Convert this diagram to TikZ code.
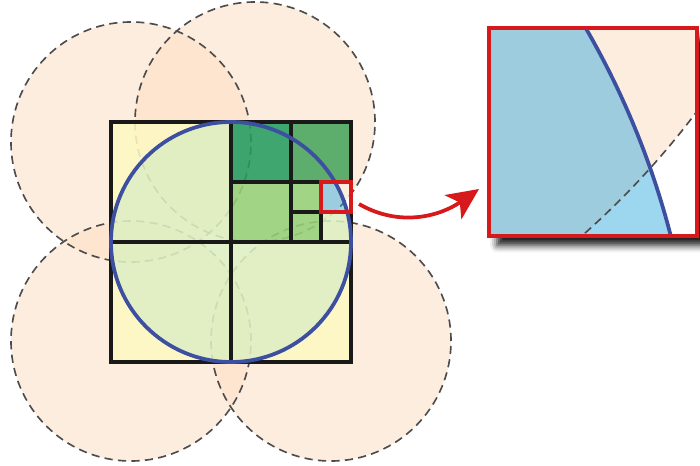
\documentclass[tikz,border=0pt]{standalone}
\usepackage{tikz}
\usetikzlibrary{arrows.meta,shadows.blur}
\usepackage{xcolor}
\definecolor{peach}{RGB}{252,220,192}
\definecolor{paleyellow}{RGB}{254,248,194}
\definecolor{palegreen}{RGB}{222,239,193}
\definecolor{darkgreen}{RGB}{36,156,95}
\definecolor{midgreen}{RGB}{71,166,94}
\definecolor{lightgreen}{RGB}{149,209,121}
\definecolor{skyblue}{RGB}{51,170,222}
\definecolor{circleblue}{RGB}{61,79,160}
\definecolor{zoomred}{RGB}{215,25,28}
\begin{document}
\begin{tikzpicture}[x=0.03cm,y=0.03cm,
  dashedline/.style={draw=black!70,line width=1.4pt,dash pattern=on 7pt off 4.5pt},
  cellline/.style={draw=black!90,line width=3pt,line cap=rect},
  circleline/.style={draw=circleblue,line width=3.2pt},
  zoomarrow/.style={draw=zoomred,line width=3.2pt,-{Stealth[length=27pt,width=25pt,inset=7pt]}}]
\useasboundingbox (0,0) rectangle (700,465);
\foreach \cx/\cy in {131/323,255/343,131/124,331/124}
  \fill[peach,fill opacity=0.5] (\cx,\cy) circle (120);
\foreach \cx/\cy in {131/323,255/343,131/124,331/124}
  \draw[dashedline] (\cx,\cy) circle (120);
\begin{scope}[transparency group,opacity=0.88,even odd rule]
\clip (100,90) rectangle (360,355) (321,253) rectangle (351,283);
\fill[paleyellow] (111,103) rectangle (351,343);
\fill[palegreen] (231,223) circle (120);
\fill[darkgreen] (231,283) rectangle (291,343);
\fill[midgreen] (291,283) rectangle (351,343);
\fill[lightgreen] (231,223) rectangle (291,283);
\fill[lightgreen] (291,253) rectangle (321,283);
\fill[lightgreen] (291,223) rectangle (321,253);
\end{scope}
\begin{scope}
\clip (321,253) rectangle (351,283);
\fill[skyblue,fill opacity=0.48] (231,223) circle (120);
\end{scope}
\draw[cellline] (111,103) rectangle (351,343);
\draw[cellline] (231,103) -- (231,343);
\draw[cellline] (111,223) -- (351,223);
\draw[cellline] (231,283) -- (351,283);
\draw[cellline] (291,223) -- (291,343);
\draw[cellline] (291,253) -- (321,253);
\draw[cellline] (321,223) -- (321,253);
\draw[circleline] (231,223) circle (120);
\node[draw=zoomred,line width=3pt,minimum size=0.9cm,inner sep=0pt,outer sep=0pt] (cell) at (336,268) {};
\node[fill=white,minimum size=6.24cm,inner sep=0pt,outer sep=0pt,
  blur shadow={shadow xshift=7pt,shadow yshift=-8pt,shadow blur radius=6pt,shadow opacity=90}] (zoom) at (593,333) {};
\begin{scope}
\clip (zoom.south west) rectangle (zoom.north east);
\begin{scope}[shift={(489,229)},scale=6.9333,shift={(-321,-253)}]
\fill[peach,fill opacity=0.5] (255,343) circle (120);
\fill[skyblue,fill opacity=0.48] (231,223) circle (120);
\draw[dashedline] (255,343) circle (120);
\draw[circleline] (231,223) circle (120);
\end{scope}
\end{scope}
\draw[draw=zoomred,line width=4.2pt] (zoom.south west) rectangle (zoom.north east);
\draw[zoomarrow] ([shift={(8,-7)}]cell.east) to[out=-30,in=215] ([shift={(-10,-57)}]zoom.west);
\end{tikzpicture}
\end{document}
